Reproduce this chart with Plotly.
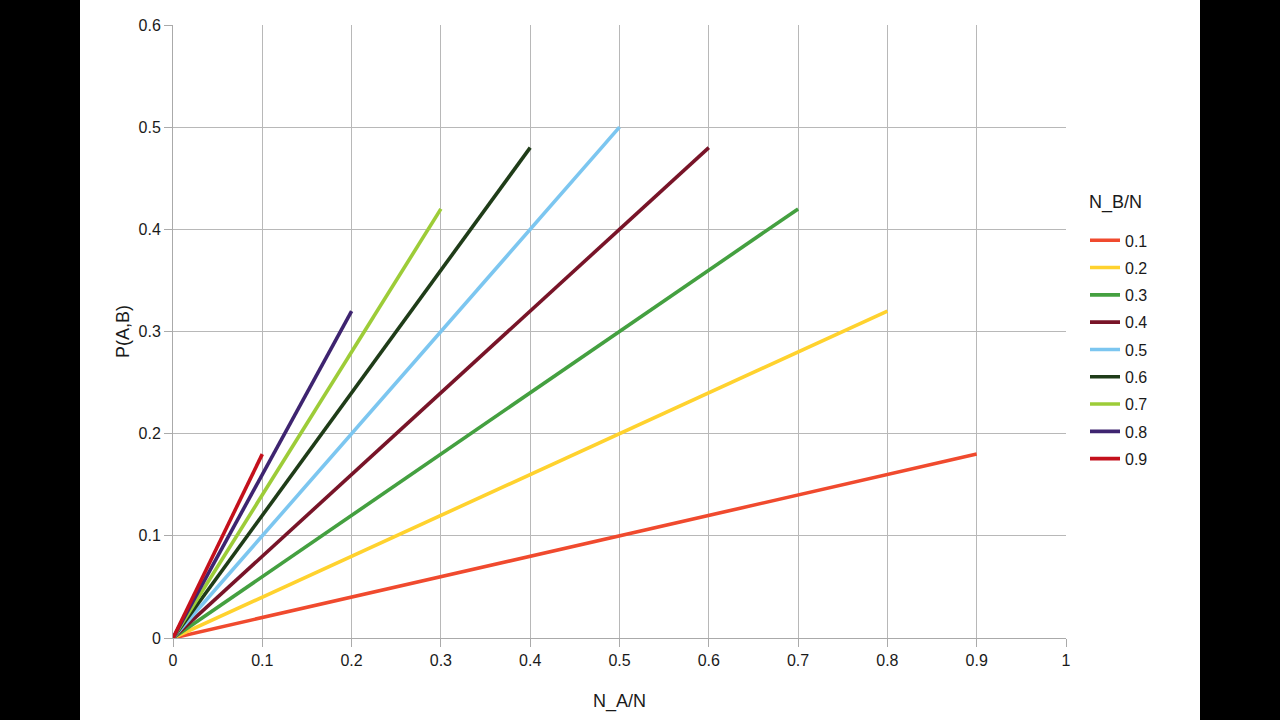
import plotly.graph_objects as go

# Data: each series is a straight line from the origin
series_names = ["0.1", "0.2", "0.3", "0.4", "0.5", "0.6", "0.7", "0.8", "0.9"]
x_start = [0, 0, 0, 0, 0, 0, 0, 0, 0]
y_start = [0, 0, 0, 0, 0, 0, 0, 0, 0]
x_end = [0.9, 0.8, 0.7, 0.6, 0.5, 0.4, 0.3, 0.2, 0.1]
y_end = [0.18, 0.32, 0.42, 0.48, 0.5, 0.48, 0.42, 0.32, 0.18]
colors = ["#f04a2e", "#ffd22e", "#44a040", "#781428", "#7cc6f0",
          "#1f3c18", "#9dcc38", "#3e2470", "#c4101c"]

x_ticks = [0, 0.1, 0.2, 0.3, 0.4, 0.5, 0.6, 0.7, 0.8, 0.9, 1]
x_tick_text = ["0", "0.1", "0.2", "0.3", "0.4", "0.5", "0.6", "0.7", "0.8", "0.9", "1"]
y_ticks = [0, 0.1, 0.2, 0.3, 0.4, 0.5, 0.6]
y_tick_text = ["0", "0.1", "0.2", "0.3", "0.4", "0.5", "0.6"]

fig = go.Figure()
for name, xs, ys, xe, ye, c in zip(series_names, x_start, y_start, x_end, y_end, colors):
    fig.add_trace(go.Scatter(x=[xs, xe], y=[ys, ye], mode="lines", name=name,
                             legendgroup=name,
                             line=dict(color=c, width=3.6)))

font = "Liberation Sans, Arial, sans-serif"
txt = "#1a1a1a"
L, R, T, B = 173, 214, 25, 69
pw = 1280 - L - R
ph = 615

fig.update_layout(
    width=1280, height=720,
    margin=dict(l=L, r=R, t=T, b=B, pad=0),
    paper_bgcolor="black", plot_bgcolor="white",
    font=dict(family=font, size=16, color=txt),
    showlegend=True,
    legend=dict(x=(1085 - L) / pw, y=(640 - 224) / ph, xanchor="left", yanchor="top",
                bgcolor="rgba(0,0,0,0)", font=dict(size=16, color=txt),
                itemwidth=30, tracegroupgap=3.5),
    annotations=[dict(text="N_B/N", xref="paper", yref="paper",
                      x=(1087 - L) / pw, y=(640 - 203) / ph, xanchor="left", yanchor="middle",
                      showarrow=False, font=dict(size=18, color=txt))],
    xaxis=dict(range=[0, 1], tickvals=x_ticks, ticktext=x_tick_text,
               showgrid=True, gridcolor="#b8b8b8", gridwidth=1,
               showline=True, linecolor="#aaaaaa", linewidth=1, mirror=False,
               ticks="outside", ticklen=8, tickcolor="#aaaaaa",
               zeroline=False, title=dict(text="N_A/N", font=dict(size=18, color=txt), standoff=26),
               tickfont=dict(size=16, color=txt)),
    yaxis=dict(range=[0, 0.6], tickvals=y_ticks, ticktext=y_tick_text,
               showgrid=True, gridcolor="#b8b8b8", gridwidth=1,
               showline=True, linecolor="#aaaaaa", linewidth=1,
               ticks="outside", ticklen=8, tickcolor="#aaaaaa",
               zeroline=False, title=dict(text="P(A,B)", font=dict(size=18, color=txt), standoff=4),
               tickfont=dict(size=16, color=txt)),
    shapes=[dict(type="rect", xref="paper", yref="paper",
                 x0=(80 - L) / pw, x1=(1200 - L) / pw,
                 y0=-0.5, y1=1.2,
                 fillcolor="white", line=dict(width=0), layer="below")],
)

fig.write_html("out.html")
